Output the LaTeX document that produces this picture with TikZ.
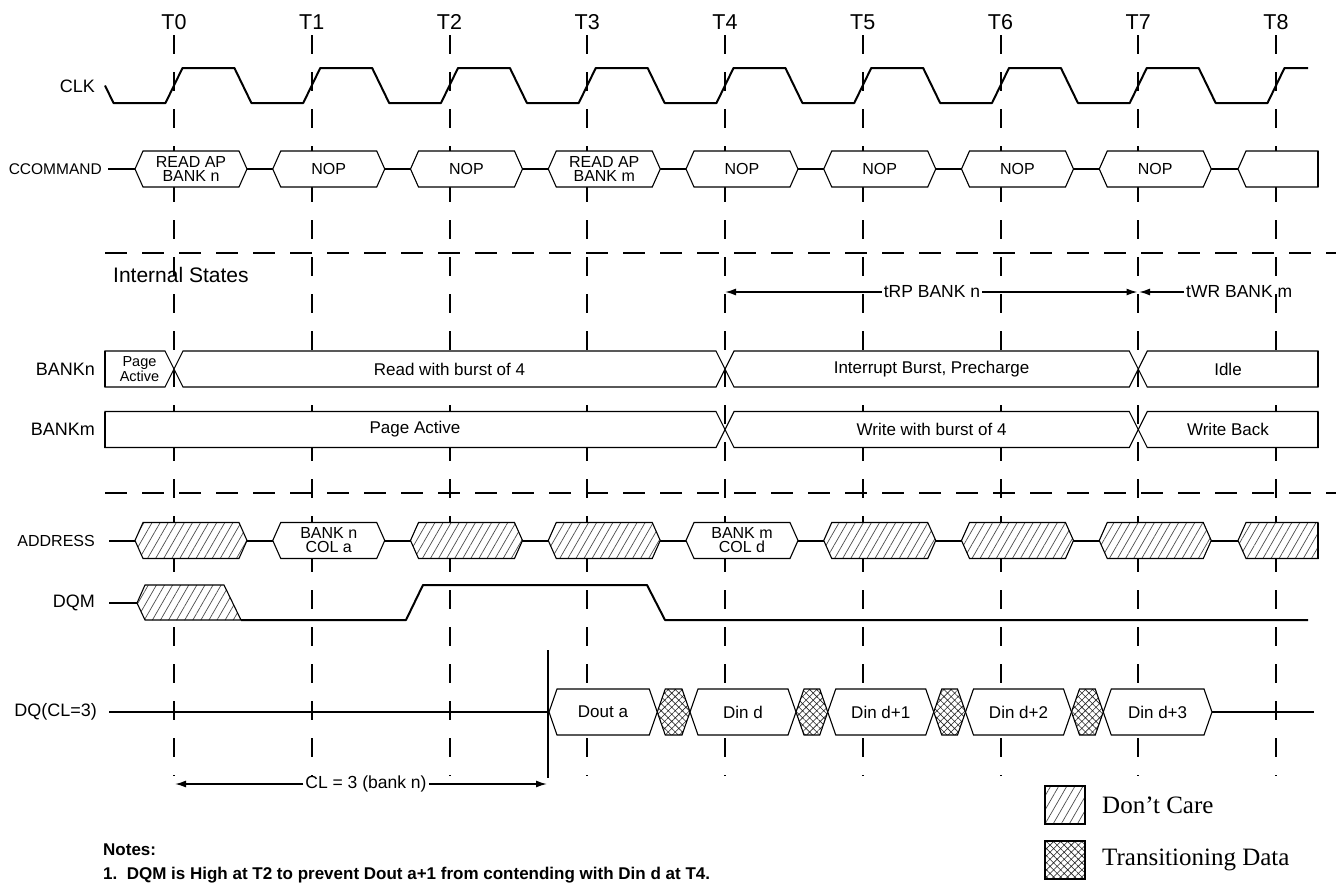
\documentclass[tikz,border=0pt]{standalone}
\usepackage{fontspec}
\setmainfont{Liberation Sans}
\newfontfamily\legendfont{Liberation Serif}
\usetikzlibrary{arrows.meta,patterns.meta}
\newcommand\fsz[2]{\fontsize{#1}{#2}\selectfont}
\newcommand\hh{18}
\newcommand\busshape[6][]{\path[#1] ({#2},{#4}) -- ({#2+#5},{#4-\hh}) -- ({#3-#6},{#4-\hh}) -- ({#3},{#4}) -- ({#3-#6},{#4+\hh}) -- ({#2+#5},{#4+\hh}) -- cycle;}
\tikzset{
 grid/.style={line width=2pt, dash pattern=on 19pt off 18pt},
 sepline/.style={line width=2.5pt, dash pattern=on 22pt off 15pt},
 wave/.style={line width=2pt, line join=round},
 bus/.style={draw, line width=1.1pt, fill=white},
 dontcare/.style={draw, line width=1.1pt, preaction={fill=white}, pattern={Lines[angle=60,distance=7pt,line width=0.7pt]}, pattern color=black!70},
 trans/.style={draw, line width=1.1pt, preaction={fill=white}, pattern={Hatch[angle=45,distance=5pt,line width=0.6pt]}, pattern color=black!85},
 sig/.style={font=\fsz{18}{20}, anchor=east, inner sep=0pt},
 btxt/.style={font=\fsz{16}{14}, align=center, inner sep=0pt},
 stxt/.style={font=\fsz{17}{19}, inner sep=0pt},
 tlabel/.style={font=\fsz{21.5}{24}, inner sep=0pt},
 dimtxt/.style={font=\fsz{17.5}{20}, inner sep=2pt},
 dim/.style={line width=1.5pt, -{Latex[length=11pt,width=7pt]}},
 edge2/.style={line width=2pt}
}
\begin{document}
\begin{tikzpicture}[x=1pt,y=-1pt]
\useasboundingbox (0,0) rectangle (1336,884);
% time grid
\foreach \i in {0,...,8}{
 \pgfmathsetmacro\tx{174+137.75*\i}
 \node[tlabel] (T\i) at (\tx,22) {T\i};
 \draw[grid] (\tx,35) -- (\tx,776);
}
% CLK
\node[sig] (clk) at (95,86) {CLK};
\draw[wave] (105,85.5) -- (113.5,103) \foreach \i in {0,...,7}{ -- ({174+137.75*\i-8.5},103) -- ({174+137.75*\i+8.5},68) -- ({174+137.75*\i+60.4},68) -- ({174+137.75*\i+77.4},103)} -- (1267.5,103) -- (1284.5,68) -- (1308,68);
% CCOMMAND
\node[sig, font=\fsz{15.5}{17}] (cmd) at (102,169) {CCOMMAND};
\draw[wave] (108,169) -- (1238,169);
\foreach \i/\t in {0/{READ AP\\BANK n},1/NOP,2/NOP,3/{READ AP\\BANK m},4/NOP,5/NOP,6/NOP,7/NOP}{
 \pgfmathsetmacro\xl{174+137.75*\i-39}
 \pgfmathsetmacro\xr{174+137.75*\i+73}
 \pgfmathsetmacro\xc{174+137.75*\i+17}
 \busshape[bus]{\xl}{\xr}{169}{8}{8}
 \node[btxt] (c\i) at (\xc,169) {\t};
}
\busshape[bus]{1238}{1318}{169}{8}{0}
\draw[edge2] (1318,151) -- (1318,187);
% separator 1
\draw[sepline] (105,253) -- (1336,253);
\node[font=\fsz{21}{24}, anchor=west, inner sep=0pt] (ist) at (113,275) {Internal States};
% tRP / tWR
\node[dimtxt] (trp) at (932,292) {tRP BANK n};
\coordinate (trpL) at (725,292);
\coordinate (trpR) at (1137.5,292);
\draw[dim] (trp.west) -- (trpL);
\draw[dim] (trp.east) -- (trpR);
\node[dimtxt, anchor=west] (twr) at (1184,292) {tWR BANK m};
\coordinate (twrL) at (1139,292);
\draw[dim] (twr.west) -- (twrL);
% BANKn
\node[sig] (bn) at (95,369) {BANKn};
\busshape[bus]{105}{174}{369}{0}{9}
\busshape[bus]{174}{725}{369}{9}{9}
\busshape[bus]{725}{1138.25}{369}{9}{9}
\busshape[bus]{1138.25}{1318}{369}{9}{0}
\draw[edge2] (105,351) -- (105,387) (1318,351) -- (1318,387);
\node[font=\fsz{14.5}{12.5}, align=center, inner sep=0pt] (bn1) at (139.5,369) {Page\\Active};
\node[stxt] (bn2) at (449.5,369) {Read with burst of 4};
\node[stxt] (bn3) at (931.6,369) {Interrupt Burst, Precharge};
\node[stxt] (bn4) at (1228,369) {Idle};
% BANKm
\node[sig] (bm) at (95,429.5) {BANKm};
\busshape[bus]{105}{725}{429.5}{0}{9}
\busshape[bus]{725}{1138.25}{429.5}{9}{9}
\busshape[bus]{1138.25}{1318}{429.5}{9}{0}
\draw[edge2] (105,411.5) -- (105,447.5) (1318,411.5) -- (1318,447.5);
\node[stxt] (bm1) at (415,429.5) {Page Active};
\node[stxt] (bm2) at (931.6,429.5) {Write with burst of 4};
\node[stxt] (bm3) at (1228,429.5) {Write Back};
% separator 2
\draw[sepline] (105,493) -- (1336,493);
% ADDRESS
\node[sig, font=\fsz{16}{18}] (addr) at (95,540.5) {ADDRESS};
\draw[wave] (109,540.5) -- (1238,540.5);
\foreach \i in {0,2,3,5,6,7}{
 \pgfmathsetmacro\xl{174+137.75*\i-39}
 \pgfmathsetmacro\xr{174+137.75*\i+73}
 \busshape[dontcare]{\xl}{\xr}{540.5}{8}{8}
}
\foreach \i/\t in {1/{BANK n\\COL a},4/{BANK m\\COL d}}{
 \pgfmathsetmacro\xl{174+137.75*\i-39}
 \pgfmathsetmacro\xr{174+137.75*\i+73}
 \pgfmathsetmacro\xc{174+137.75*\i+17}
 \busshape[bus]{\xl}{\xr}{540.5}{8}{8}
 \node[btxt] (a\i) at (\xc,540.5) {\t};
}
\busshape[dontcare]{1238}{1318}{540.5}{8}{0}
\draw[edge2] (1318,522.5) -- (1318,558.5);
% DQM
\node[sig] (dqm) at (95,603) {DQM};
\draw[wave] (109,603) -- (137,603);
\path[dontcare] (137,603) -- (145,585) -- (224,585) -- (241,620) -- (145,620) -- cycle;
\draw[wave] (241,620) -- (406,620) -- (423,585) -- (647,585) -- (665,620) -- (1308,620);
% DQ
\renewcommand\hh{23}
\node[sig] (dq) at (97,712) {DQ(CL=3)};
\draw[wave] (109,712) -- (549,712);
\draw[line width=1.5pt] (548,650) -- (548,778);
\busshape[bus]{549}{657.25}{712}{8}{8}
\busshape[trans]{657.25}{690}{712}{8}{8}
\busshape[bus]{690}{796}{712}{8}{8}
\busshape[trans]{796}{827.75}{712}{8}{8}
\busshape[bus]{827.75}{933.75}{712}{8}{8}
\busshape[trans]{933.75}{965.5}{712}{8}{8}
\busshape[bus]{965.5}{1071.5}{712}{8}{8}
\busshape[trans]{1071.5}{1103.25}{712}{8}{8}
\busshape[bus]{1103.25}{1212}{712}{8}{8}
\draw[wave] (1212,712) -- (1314,712);
\node[stxt] (d0) at (603,712) {Dout a};
\node[stxt] (d1) at (743,712) {Din d};
\node[stxt] (d2) at (880.75,712) {Din d+1};
\node[stxt] (d3) at (1018.5,712) {Din d+2};
\node[stxt] (d4) at (1157.6,712) {Din d+3};
% CL
\node[dimtxt] (cl) at (366,784) {CL = 3 (bank n)};
\coordinate (clL) at (175,784);
\coordinate (clR) at (547,784);
\draw[dim] (cl.west) -- (clL);
\draw[dim] (cl.east) -- (clR);
% legend
\path[dontcare, line width=2pt] (1045,786) rectangle (1085,824);
\node[font=\legendfont\fsz{25}{28}, anchor=west, inner sep=0pt] (ldc) at (1102,805) {Don’t Care};
\path[trans, line width=2pt] (1045,841) rectangle (1085,879);
\node[font=\legendfont\fsz{25}{28}, anchor=west, inner sep=0pt] (ltd) at (1102,860) {Transitioning Data};
% notes
\node[font=\bfseries\fsz{17}{20}, anchor=base west, inner sep=0pt] (notes) at (103,855) {Notes:};
\node[font=\bfseries\fsz{17}{20}, anchor=base west, inner sep=0pt] (note1) at (103,879) {1.\ \ DQM is High at T2 to prevent Dout a+1 from contending with Din d at T4.};
\end{tikzpicture}
\end{document}
